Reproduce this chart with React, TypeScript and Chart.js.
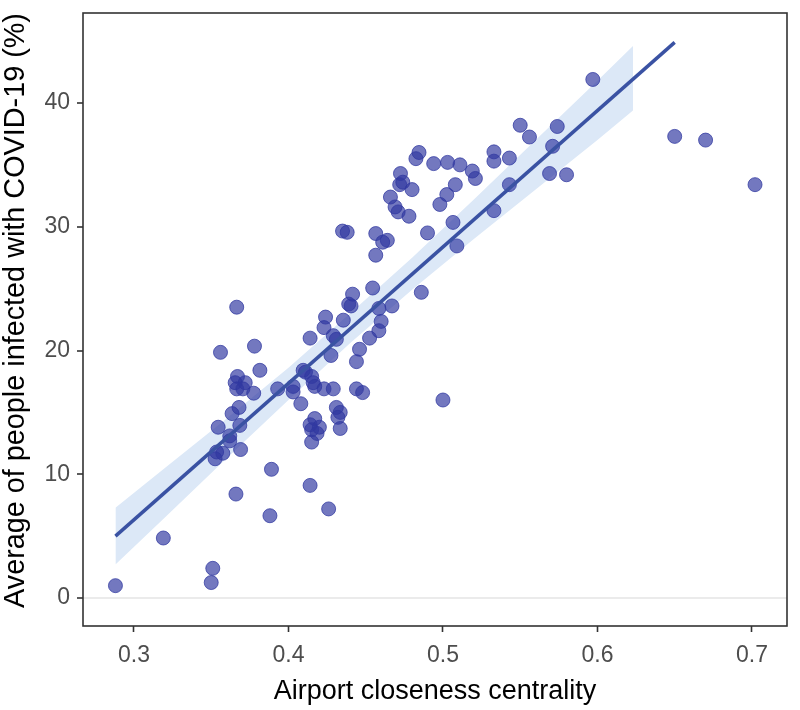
import React, { useEffect, useRef } from "react";
import { Chart, registerables } from "chart.js";

Chart.register(...registerables);

// Scatter points: airport closeness centrality vs average infected (%)
const centrality: number[] = [
  0.288, 0.319, 0.351, 0.35, 0.388, 0.426, 0.414, 0.389, 0.366, 0.5,
  0.597, 0.65, 0.67, 0.702, 0.55, 0.556, 0.574, 0.571, 0.533, 0.533,
  0.543, 0.569, 0.58, 0.543, 0.533, 0.521, 0.4845, 0.4825, 0.494, 0.503,
  0.511, 0.519, 0.4725, 0.472, 0.474, 0.48, 0.466, 0.469, 0.471, 0.478,
  0.508, 0.5025, 0.498, 0.5065, 0.509, 0.49, 0.4565, 0.461, 0.464, 0.4565,
  0.435, 0.438, 0.4545, 0.486, 0.4415, 0.439, 0.4405, 0.4585, 0.467, 0.424,
  0.4355, 0.423, 0.46, 0.4585, 0.4525, 0.429, 0.431, 0.414, 0.446, 0.4275,
  0.444, 0.4095, 0.411, 0.415, 0.416, 0.417, 0.423, 0.429, 0.393, 0.403,
  0.403, 0.444, 0.448, 0.408, 0.431, 0.4335, 0.432, 0.417, 0.414, 0.42,
  0.415, 0.4185, 0.4335, 0.415, 0.356, 0.378, 0.3815, 0.367, 0.3655, 0.372,
  0.3665, 0.3705, 0.3775, 0.368, 0.3635, 0.3685, 0.3545, 0.362, 0.362, 0.3535,
  0.3575, 0.3525, 0.369, 0.3665,
];
const infected: number[] = [
  1.0, 4.85, 2.4, 1.25, 6.65, 7.2, 9.1, 10.4, 8.4, 16.0,
  41.9, 37.3, 37.0, 33.4, 38.2, 37.25, 38.1, 36.5, 36.05, 35.3,
  35.55, 34.3, 34.2, 33.4, 31.3, 33.9, 36.0, 35.5, 35.1, 35.2,
  35.0, 34.5, 34.3, 33.4, 33.6, 33.0, 32.4, 31.6, 31.2, 30.85,
  33.4, 32.6, 31.8, 30.35, 28.45, 29.5, 29.45, 28.75, 28.9, 27.7,
  29.65, 29.55, 25.05, 24.7, 24.55, 23.75, 23.6, 23.4, 23.6, 22.7,
  22.45, 21.85, 22.35, 21.6, 21.0, 21.2, 20.9, 21.0, 20.1, 19.6,
  19.1, 18.4, 18.25, 17.9, 17.4, 17.1, 16.9, 16.9, 16.9, 17.1,
  16.65, 16.9, 16.6, 15.7, 15.4, 15.0, 14.6, 14.5, 14.0, 13.8,
  13.6, 13.3, 13.7, 12.6, 19.85, 20.35, 18.4, 17.9, 17.4, 17.4,
  16.9, 16.9, 16.55, 15.4, 14.9, 13.95, 13.8, 13.1, 12.7, 11.8,
  11.7, 11.25, 12.0, 23.5,
];

// Fitted line end points
const fitX: number[] = [0.288, 0.65];
const fitY: number[] = [5.0, 44.9];

// Confidence band
const bandX: number[] = [0.288, 0.32, 0.36, 0.4, 0.44, 0.48, 0.52, 0.56, 0.6, 0.623];
const bandLow: number[] = [2.7, 6.5, 11.3, 16.0, 20.6, 24.9, 29.0, 33.0, 37.0, 39.4];
const bandHigh: number[] = [7.3, 10.5, 14.5, 18.6, 23.0, 27.5, 32.2, 37.0, 41.8, 44.6];

const xTicks: number[] = [0.3, 0.4, 0.5, 0.6, 0.7];
const yTicks: number[] = [0, 10, 20, 30, 40];

const xTitle = "Airport closeness centrality";
const yTitle = "Average of people infected with COVID-19 (%)";

const FONT = "'Liberation Sans', Arial, sans-serif";

export default function App() {
  const ref = useRef<HTMLCanvasElement | null>(null);

  useEffect(() => {
    if (!ref.current) return;
    const frame = {
      id: "frame",
      afterDraw(chart: any) {
        const { ctx, chartArea } = chart;
        ctx.save();
        ctx.strokeStyle = "#333333";
        ctx.lineWidth = 1.6;
        ctx.strokeRect(chartArea.left, chartArea.top, chartArea.right - chartArea.left, chartArea.bottom - chartArea.top);
        // y axis title
        ctx.fillStyle = "#000000";
        ctx.font = `28.8px ${FONT}`;
        ctx.textAlign = "center";
        ctx.textBaseline = "middle";
        ctx.translate(16, (chartArea.top + chartArea.bottom) / 2 - 9);
        ctx.rotate(-Math.PI / 2);
        ctx.fillText(yTitle, 0, 0);
        ctx.restore();
      },
    };
    const zeroPad = (s: any) => {
      s.paddingTop = 0;
      s.paddingBottom = 0;
      s.paddingLeft = 0;
      s.paddingRight = 0;
    };
    const chart = new Chart(ref.current, {
      type: "scatter",
      data: {
        datasets: [
          {
            type: "line",
            data: bandX.map((x, i) => ({ x, y: bandLow[i] })),
            borderWidth: 0,
            borderColor: "rgba(0,0,0,0)",
            pointRadius: 0,
            fill: false,
            order: 3,
          } as any,
          {
            type: "line",
            data: bandX.map((x, i) => ({ x, y: bandHigh[i] })),
            borderWidth: 0,
            borderColor: "rgba(0,0,0,0)",
            backgroundColor: "#dce8f7",
            pointRadius: 0,
            fill: "-1",
            order: 3,
          } as any,
          {
            type: "scatter",
            data: centrality.map((x, i) => ({ x, y: infected[i] })),
            pointRadius: 7,
            backgroundColor: "rgba(48,56,160,0.68)",
            borderColor: "rgba(48,56,160,0.75)",
            borderWidth: 1,
            order: 2,
          } as any,
          {
            type: "line",
            data: fitX.map((x, i) => ({ x, y: fitY[i] })),
            borderColor: "#3a52a3",
            borderWidth: 3.5,
            pointRadius: 0,
            fill: false,
            order: 1,
          } as any,
        ],
      },
      options: {
        animation: false,
        responsive: false,
        events: [],
        layout: { padding: { top: 13, right: 13, left: 0, bottom: 0 } },
        plugins: { legend: { display: false }, tooltip: { enabled: false } },
        scales: {
          x: {
            type: "linear",
            min: 0.267,
            max: 0.7227,
            afterBuildTicks: (s: any) => {
              s.ticks = xTicks.map((v) => ({ value: v }));
            },
            afterFit: (s: any) => {
              s.height = 84;
              zeroPad(s);
            },
            grid: {
              drawOnChartArea: false,
              drawTicks: true,
              tickLength: 6,
              tickColor: "#333333",
              tickWidth: 1.6,
            },
            border: { display: false },
            ticks: {
              padding: 10,
              color: "#4d4d4d",
              font: { family: FONT, size: 23 },
              maxRotation: 0,
              callback: (v: any) => Number(v).toFixed(1),
            },
            title: {
              display: true,
              text: xTitle,
              color: "#000000",
              font: { family: FONT, size: 27 },
              padding: { top: 0, bottom: 2 },
            },
          },
          y: {
            type: "linear",
            min: -2.26,
            max: 47.27,
            afterBuildTicks: (s: any) => {
              s.ticks = yTicks.map((v) => ({ value: v }));
            },
            afterFit: (s: any) => {
              s.width = 83;
              zeroPad(s);
            },
            grid: {
              drawOnChartArea: true,
              drawTicks: true,
              tickLength: 6,
              color: (c: any) => (c.tick && c.tick.value === 0 ? "#ebebeb" : "rgba(0,0,0,0)"),
              lineWidth: 2,
              tickColor: "#333333",
              tickWidth: 1.6,
            },
            border: { display: false },
            ticks: {
              padding: 7,
              color: "#4d4d4d",
              font: { family: FONT, size: 23 },
              callback: (v: any) => String(v),
            },
            title: { display: false },
          },
        },
      },
      plugins: [frame],
    } as any);
    return () => chart.destroy();
  }, []);

  return (
    <div style={{ position: "absolute", left: 0, top: 0, width: 800, height: 710, background: "#fff" }}>
      <canvas ref={ref} width={800} height={710} />
    </div>
  );
}
